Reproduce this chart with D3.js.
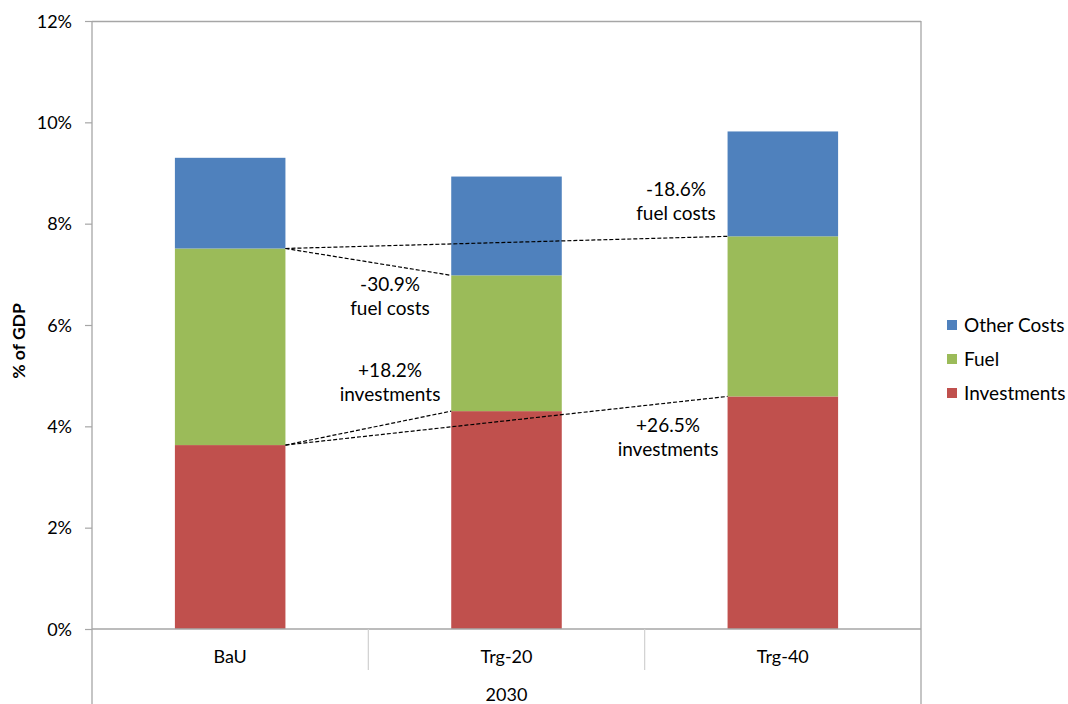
<!DOCTYPE html>
<html>
<head>
<meta charset="utf-8">
<script src="https://cdn.jsdelivr.net/npm/d3@7"></script>
<style>
  html, body { margin: 0; padding: 0; background: #fff; }
  svg text { font-family: Lato, "Open Sans", sans-serif; fill: #000; }
</style>
</head>
<body>
<svg id="chart" width="1068" height="704"></svg>
<script>
// Energy system costs in 2030, share of GDP (%)
const scenarios = ["BaU", "Trg-20", "Trg-40"];
const groupLabel = "2030";
const investments = [3.63, 4.30, 4.59];
const fuel = [3.88, 2.68, 3.16];
const otherCosts = [1.79, 1.95, 2.07];
const seriesNames = ["Investments", "Fuel", "Other Costs"];
const seriesColors = ["#C0504D", "#9BBB59", "#4F81BD"];
const yTicks = [0, 2, 4, 6, 8, 10, 12];

// Change annotations relative to BaU: [target scenario, series, label lines]
const changeNotes = [
  { target: "Trg-20", series: "Fuel", lines: ["-30.9%", "fuel costs"] },
  { target: "Trg-40", series: "Fuel", lines: ["-18.6%", "fuel costs"] },
  { target: "Trg-20", series: "Investments", lines: ["+18.2%", "investments"] },
  { target: "Trg-40", series: "Investments", lines: ["+26.5%", "investments"] }
];

const svg = d3.select("#chart");
const W = 1068, H = 704;
const plot = { left: 92, right: 921, top: 21, bottom: 629 };
const fs = 19;

const x = d3.scaleBand()
  .domain(scenarios)
  .range([plot.left, plot.right])
  .paddingInner(0.6)
  .paddingOuter(0.3);

const y = d3.scaleLinear().domain([0, 12]).range([plot.bottom, plot.top]);

// Stacked data
const rows = scenarios.map((s, i) => ({
  scenario: s,
  Investments: investments[i],
  Fuel: fuel[i],
  "Other Costs": otherCosts[i]
}));
const stacked = d3.stack().keys(seriesNames)(rows);
const color = d3.scaleOrdinal().domain(seriesNames).range(seriesColors);

// Plot frame
const frame = svg.append("g").attr("stroke", "#A6A6A6").attr("stroke-width", 1.3).attr("fill", "none");
frame.append("line").attr("x1", plot.left).attr("x2", plot.right).attr("y1", plot.top + 0.5).attr("y2", plot.top + 0.5);
frame.append("line").attr("x1", plot.right).attr("x2", plot.right).attr("y1", plot.top).attr("y2", H);

// Bars
svg.append("g").selectAll("g")
  .data(stacked)
  .join("g")
  .attr("fill", d => color(d.key))
  .selectAll("rect")
  .data(d => d)
  .join("rect")
  .attr("x", d => x(d.data.scenario))
  .attr("width", x.bandwidth())
  .attr("y", d => y(d[1]))
  .attr("height", d => y(d[0]) - y(d[1]));

// Y axis
const yAxis = svg.append("g")
  .attr("transform", `translate(${plot.left},0)`)
  .call(d3.axisLeft(y).tickValues(yTicks).tickFormat(d => d + "%").tickSize(7).tickSizeOuter(0));
yAxis.select(".domain").remove();
yAxis.selectAll(".tick line").attr("stroke", "#A6A6A6").attr("stroke-width", 1.2);
yAxis.selectAll(".tick text").attr("x", -20).attr("font-size", 18).attr("dy", "0.35em");
svg.append("line")
  .attr("x1", plot.left).attr("x2", plot.left)
  .attr("y1", plot.top).attr("y2", H)
  .attr("stroke", "#A6A6A6").attr("stroke-width", 1.3);

// X axis with category separators
const xAxisG = svg.append("g").attr("transform", `translate(0,${plot.bottom})`);
xAxisG.append("line")
  .attr("x1", plot.left).attr("x2", plot.right)
  .attr("stroke", "#A6A6A6").attr("stroke-width", 1.3);
const step = x.step();
const bounds = d3.range(1, scenarios.length).map(i => x(scenarios[i]) - step * x.paddingInner() / 2);
xAxisG.selectAll("line.sep")
  .data(bounds)
  .join("line")
  .attr("class", "sep")
  .attr("x1", d => d).attr("x2", d => d)
  .attr("y1", 0).attr("y2", 41)
  .attr("stroke", "#D0D0D0").attr("stroke-width", 1.2);
xAxisG.selectAll("text.cat")
  .data(scenarios)
  .join("text")
  .attr("class", "cat")
  .attr("x", d => x(d) + x.bandwidth() / 2)
  .attr("y", 34)
  .attr("text-anchor", "middle")
  .attr("font-size", 18)
  .text(d => d);
svg.append("text")
  .attr("x", (plot.left + plot.right) / 2)
  .attr("y", 701)
  .attr("text-anchor", "middle")
  .attr("font-size", 18)
  .text(groupLabel);

// Y axis title
svg.append("text")
  .attr("transform", `translate(25,${(plot.top + plot.bottom) / 2 + 16}) rotate(-90)`)
  .attr("text-anchor", "middle")
  .attr("font-size", 17.5)
  .attr("font-weight", "bold")
  .text("% of GDP");

// Dashed connectors from BaU to each scenario
const topOf = (scen, series) => {
  const layer = stacked.find(l => l.key === series);
  return layer[scenarios.indexOf(scen)][1];
};
svg.append("g").selectAll("line")
  .data(changeNotes)
  .join("line")
  .attr("x1", x("BaU") + x.bandwidth())
  .attr("y1", d => y(topOf("BaU", d.series)))
  .attr("x2", d => x(d.target))
  .attr("y2", d => y(topOf(d.target, d.series)))
  .attr("stroke", "#000")
  .attr("stroke-width", 1.2)
  .attr("stroke-dasharray", "4,2");

// Change labels
const notePos = [
  { cx: 390, cy: 284 },
  { cx: 676, cy: 189 },
  { cx: 390, cy: 370 },
  { cx: 668, cy: 425 }
];
const noteG = svg.append("g");
changeNotes.forEach((n, i) => {
  const t = noteG.append("text")
    .attr("text-anchor", "middle")
    .attr("font-size", fs);
  n.lines.forEach((ln, j) => {
    t.append("tspan")
      .attr("x", notePos[i].cx)
      .attr("y", notePos[i].cy + j * 24.5)
      .attr("dy", "0.35em")
      .text(ln);
  });
});

// Legend (top-down: Other Costs, Fuel, Investments)
const legendItems = seriesNames.slice().reverse();
const legend = svg.append("g").attr("transform", "translate(947,325)");
legendItems.forEach((k, i) => {
  const g = legend.append("g").attr("transform", `translate(0,${i * 34})`);
  g.append("rect").attr("x", 0).attr("y", -5).attr("width", 10).attr("height", 10).attr("fill", color(k));
  g.append("text").attr("x", 17).attr("dy", "0.35em").attr("font-size", fs).text(k);
});
</script>
</body>
</html>
